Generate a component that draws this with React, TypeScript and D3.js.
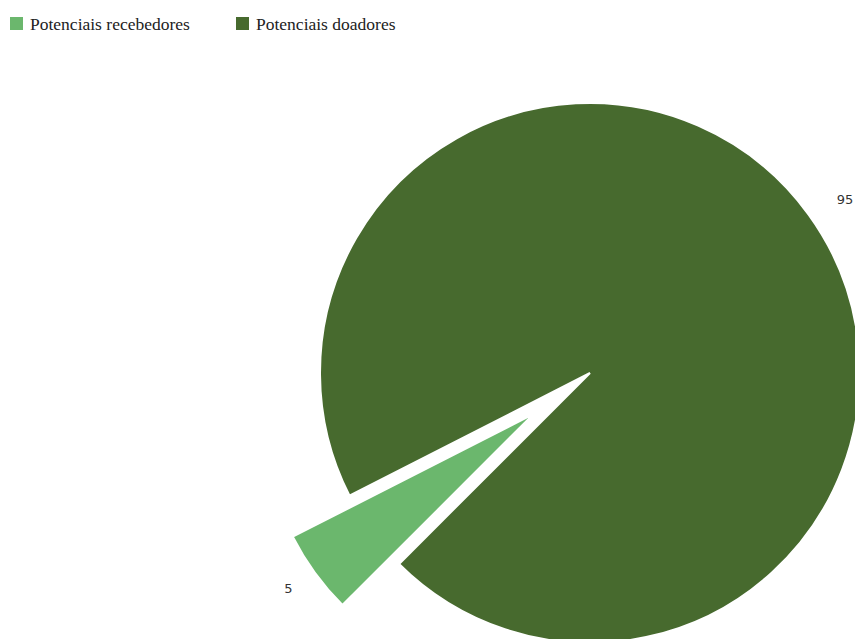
import React from "react";
import * as d3 from "d3";

const categories = ["Potenciais recebedores", "Potenciais doadores"];
const values = [5, 95];
const colors = ["#6BB76D", "#476A2E"];
const explode = [70, 0];

const W = 855;
const H = 639;
const cx = 590;
const cy = 373;
const R = 270;
const labelR = 305;

export default function App() {
  const data = categories.map((c, i) => ({ c, v: values[i], i }));
  const pie = d3
    .pie<any>()
    .sort(null)
    .value((d) => d.v)
    .startAngle((225 * Math.PI) / 180)
    .endAngle((585 * Math.PI) / 180);
  const arcs = pie(data);
  const arc = d3.arc<any>().innerRadius(0).outerRadius(R);

  const legendX = [10, 236];

  return (
    <svg
      width={W}
      height={H}
      style={{ position: "absolute", left: 0, top: 0, background: "#fff" }}
    >
      <g>
        {data.map((d, i) => (
          <g key={d.c} transform={`translate(${legendX[i]},17)`}>
            <rect width={13} height={13} fill={colors[i]} />
            <text
              x={20}
              y={12.5}
              fontFamily="'Liberation Serif', 'Times New Roman', serif"
              fontSize={17.5}
              fill="#222"
            >
              {d.c}
            </text>
          </g>
        ))}
      </g>
      <g transform={`translate(${cx},${cy})`}>
        {arcs.map((a, i) => {
          const mid = (a.startAngle + a.endAngle) / 2;
          const ox = Math.sin(mid) * explode[i];
          const oy = -Math.cos(mid) * explode[i];
          return (
            <path
              key={i}
              d={arc(a) as string}
              transform={`translate(${ox},${oy})`}
              fill={colors[i]}
              stroke="#fff"
              strokeWidth={2}
            />
          );
        })}
        {arcs.map((a, i) => {
          const mid = (a.startAngle + a.endAngle) / 2;
          const ox = Math.sin(mid) * explode[i];
          const oy = -Math.cos(mid) * explode[i];
          const lx = ox + Math.sin(mid) * labelR;
          const ly = oy - Math.cos(mid) * labelR;
          const right = Math.sin(mid) > 0;
          return (
            <text
              key={"l" + i}
              x={lx + (right ? 0 : 6)}
              y={ly + (right ? 6 : -5)}
              dy="0.35em"
              textAnchor={right ? "start" : "end"}
              fontFamily="'DejaVu Sans', Verdana, sans-serif"
              fontSize={13}
              fill="#333"
            >
              {a.data.v}
            </text>
          );
        })}
      </g>
    </svg>
  );
}
